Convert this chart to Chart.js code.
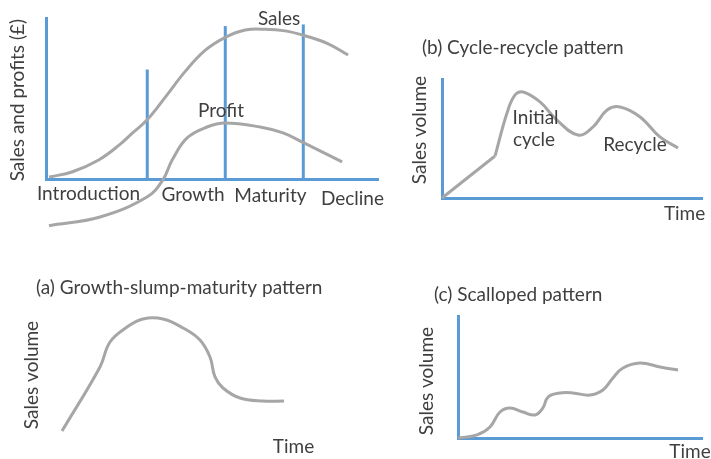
<!DOCTYPE html>
<html>
<head>
<meta charset="utf-8">
<title>Product life cycle patterns</title>
<script src="https://cdn.jsdelivr.net/npm/chart.js@4.4.1/dist/chart.umd.min.js"></script>
<style>
  body { margin: 0; background: #fff; }
  #wrap { position: relative; width: 711px; height: 459px; }
  #wrap canvas { position: absolute; left: 0; top: 0; }
</style>
</head>
<body>
<div id="wrap">
  <canvas id="life" width="711" height="459"></canvas>
  <canvas id="cycle" width="711" height="459"></canvas>
  <canvas id="slump" width="711" height="459"></canvas>
  <canvas id="scallop" width="711" height="459"></canvas>
</div>
<script>
// life cycle: time 0-100 along x, sales/profit 0-100 up y
const stageNames = ['Introduction', 'Growth', 'Maturity', 'Decline'];
const stageX = [30.5, 54, 77.5];
const stageTop = [68, 95, 96];
const salesTime = [0.9, 8, 16, 22, 26, 30.4, 36, 42, 48, 54, 60, 66, 72, 78, 85, 91];
const salesValue = [1.2, 4.5, 12, 21, 28.5, 36.6, 51, 67, 80, 88, 92.5, 93, 92, 89, 84, 77];
const profitTime = [0.9, 16.3, 30.4, 35.2, 38, 42.5, 48.5, 53.9, 64.5, 71.4, 77.7, 89.2];
const profitValue = [-29, -23.6, -11.2, -0.6, 11.8, 25.5, 32.3, 34.8, 32.3, 28.6, 22.4, 10.6];

// (b) cycle-recycle
const cycleRampTime = [0, 20.4];
const cycleRampValue = [0, 35.3];
const cycleTime = [20.4, 25, 28.1, 31.2, 37.7, 44.2, 52.3, 58.1, 63.5, 68.5, 76.2, 83.8, 90.8];
const cycleValue = [35.3, 71.4, 86.6, 89.1, 80.7, 65.5, 52.9, 59.7, 73.9, 76.5, 68.1, 51.3, 42];

// (a) growth-slump-maturity
const slumpTime = [4.8, 20, 24, 30.8, 37.2, 45.2, 53.2, 60, 64, 66, 69.2, 76, 85.2, 93.6];
const slumpValue = [6.9, 56.2, 75.4, 86.9, 93.1, 93.1, 86.2, 76.9, 63.8, 48.5, 40, 32.3, 30, 30];

// (c) scalloped
const scallopTime = [0, 7.8, 13.1, 17.2, 21.3, 26.6, 31.6, 34.8, 36.9, 41.8, 47.1, 54.1, 59.4, 63.5, 67.6, 74.6, 82.8, 90.2];
const scallopValue = [0, 2.5, 9, 21.3, 24.6, 21.3, 18.9, 24.6, 33.6, 36.9, 36.9, 35.2, 39.3, 49.2, 57.4, 61.5, 58.2, 55.7];

const BLUE = '#5b9bd5';
const GREY = '#a6a6a6';
const INK = '#3f3f3f';

const pts = (xs, ys) => xs.map((x, i) => ({ x: x, y: ys[i] }));

// text drawn at data positions
const notesPlugin = {
  id: 'notes',
  afterDatasetsDraw(chart, args, opts) {
    const ctx = chart.ctx;
    const xs = chart.scales.x, ys = chart.scales.y;
    ctx.save();
    ctx.fillStyle = INK;
    ctx.font = '19px Lato';
    ctx.textBaseline = 'middle';
    (opts.items || []).forEach(n => {
      ctx.save();
      ctx.translate(xs.getPixelForValue(n.x), ys.getPixelForValue(n.y));
      if (n.rotate) ctx.rotate(n.rotate * Math.PI / 180);
      ctx.textAlign = n.align || 'center';
      ctx.fillText(n.text, 0, 0);
      ctx.restore();
    });
    ctx.restore();
  }
};

function curve(data, extra) {
  return Object.assign({
    data: data,
    borderColor: GREY,
    borderWidth: 3,
    pointRadius: 0,
    fill: false,
    tension: 0.4,
    clip: false
  }, extra || {});
}

function axis(showBorder) {
  return {
    type: 'linear',
    min: 0,
    max: 100,
    grid: { display: false, drawTicks: false },
    ticks: { display: false },
    border: { display: showBorder, color: BLUE, width: 3 }
  };
}

function makeChart(id, pad, datasets, notes, showAxes) {
  return new Chart(document.getElementById(id), {
    type: 'line',
    data: { datasets: datasets },
    options: {
      responsive: false,
      animation: false,
      events: [],
      layout: { padding: pad, autoPadding: false },
      scales: { x: axis(showAxes), y: axis(showAxes) },
      plugins: {
        legend: { display: false },
        tooltip: { enabled: false },
        notes: { items: notes }
      }
    },
    plugins: [notesPlugin]
  });
}

// life cycle
const lifeSets = [
  curve(pts(salesTime, salesValue)),
  curve(pts(profitTime, profitValue))
];
stageX.forEach((x, i) => {
  lifeSets.push({
    data: [{ x: x, y: 0 }, { x: x, y: stageTop[i] }],
    borderColor: BLUE, borderWidth: 3, pointRadius: 0, tension: 0, clip: false
  });
});
makeChart('life', { left: 46, top: 18, right: 333, bottom: 280 }, lifeSets, [
  { text: 'Sales', x: 70.2, y: 99.4 },
  { text: 'Profit', x: 52.7, y: 42.2 },
  { text: stageNames[0], x: 12.8, y: -9.3 },
  { text: stageNames[1], x: 44.3, y: -9.9 },
  { text: stageNames[2], x: 67.6, y: -10.6 },
  { text: stageNames[3], x: 92.3, y: -12.4 },
  { text: 'Sales and profits (£)', x: -8.4, y: 49, rotate: -90 }
], true);

// (b)
makeChart('cycle', { left: 442, top: 79, right: 9, bottom: 261 }, [
  curve(pts(cycleRampTime, cycleRampValue), { tension: 0 }),
  curve(pts(cycleTime, cycleValue))
], [
  { text: '(b) Cycle-recycle pattern', x: -7.7, y: 126, align: 'left' },
  { text: 'Initial', x: 36, y: 67.2 },
  { text: 'cycle', x: 35.4, y: 48.7 },
  { text: 'Recycle', x: 74.2, y: 44.5 },
  { text: 'Time', x: 93.3, y: -13.4 },
  { text: 'Sales volume', x: -8.5, y: 57.1, rotate: -90 }
], true);

// (a) no axes drawn
makeChart('slump', { left: 50, top: 310, right: 411, bottom: 19 }, [
  curve(pts(slumpTime, slumpValue))
], [
  { text: '(a) Growth-slump-maturity pattern', x: -5.6, y: 116.9, align: 'left' },
  { text: 'Time', x: 97.4, y: -5.4 },
  { text: 'Sales volume', x: -7.2, y: 50, rotate: -90 }
], false);

// (c)
makeChart('scallop', { left: 458, top: 316, right: 9, bottom: 21 }, [
  curve(pts(scallopTime, scallopValue))
], [
  { text: '(c) Scalloped pattern', x: -9.8, y: 117.2, align: 'left' },
  { text: 'Time', x: 95.1, y: -11.5 },
  { text: 'Sales volume', x: -12.7, y: 46.7, rotate: -90 }
], true);
</script>
</body>
</html>
